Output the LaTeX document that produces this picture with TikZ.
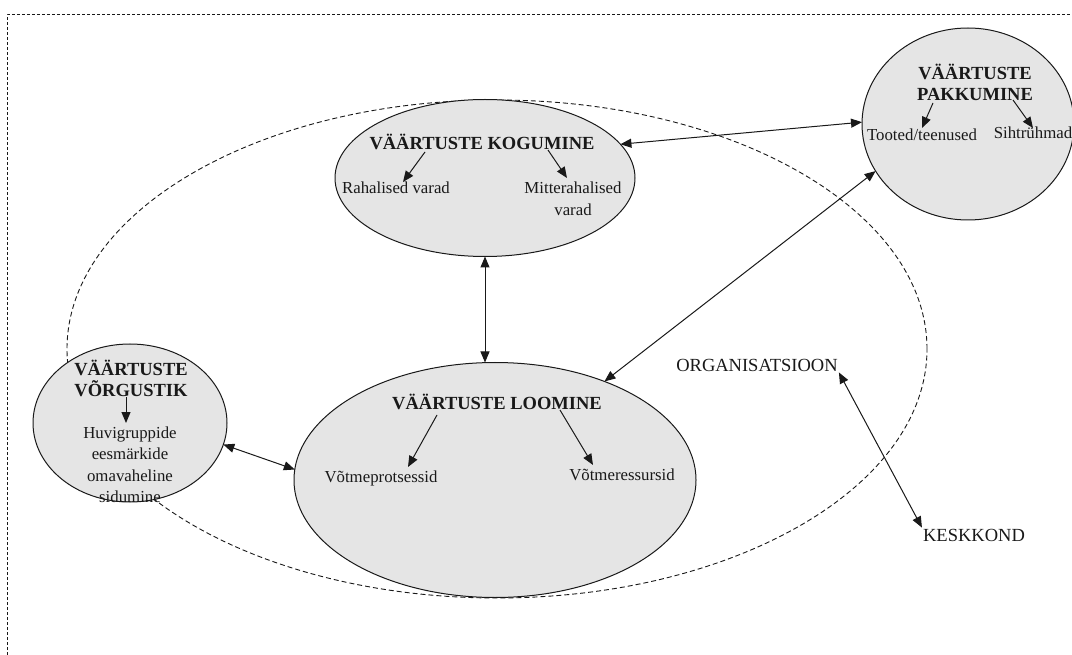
\documentclass[tikz,border=0pt]{standalone}
\usepackage{fontspec}
\setmainfont{Liberation Serif}
\usetikzlibrary{arrows.meta,shapes.geometric,calc}
\definecolor{bubble}{RGB}{229,229,229}
\definecolor{inkc}{RGB}{25,25,25}
\tikzset{
  frameline/.style={draw=inkc,line width=1pt,dash pattern=on 3pt off 2pt},
  orgline/.style={draw=inkc,line width=0.9pt,dash pattern=on 5pt off 3pt},
  bubblenode/.style={ellipse,draw=inkc,line width=1pt,fill=bubble,inner sep=0pt,outer sep=0pt},
  titletext/.style={font=\fontsize{18.5}{21}\selectfont\bfseries,align=center,inner sep=0pt,text=inkc},
  bodytext/.style={font=\fontsize{16.8}{21.5}\selectfont,align=center,inner sep=0pt,text=inkc},
  capstext/.style={font=\fontsize{18.5}{22}\selectfont,align=center,inner sep=1pt,text=inkc},
  arr/.style={-{Triangle[length=11pt,width=9pt]},line width=1pt,draw=inkc},
  darr/.style={{Triangle[length=11pt,width=9pt]}-{Triangle[length=11pt,width=9pt]},line width=1pt,draw=inkc}
}
\begin{document}
\begin{tikzpicture}[x=1pt,y=-1pt]
\useasboundingbox (0,0) rectangle (1072,655);
% outer frame
\draw[frameline] (7,655) -- (7,15) -- (1072,15);
% organisation boundary
\node[ellipse,orgline,minimum width=860pt,minimum height=498pt,inner sep=0pt] (orgb) at (497,349) {};
% bubbles
\node[bubblenode,minimum width=300pt,minimum height=157pt] (kog) at (485,178) {};
\node[bubblenode,minimum width=212pt,minimum height=192pt] (pak) at (968,124) {};
\node[bubblenode,minimum width=194pt,minimum height=158pt] (vor) at (130,423) {};
\node[bubblenode,minimum width=402pt,minimum height=235pt] (loo) at (495,480) {};
% texts
\node[titletext] (kogt) at (482,142) {VÄÄRTUSTE KOGUMINE};
\node[bodytext] (rah) at (396,188) {Rahalised varad};
\node[bodytext] (mit) at (573,199) {Mitterahalised\\varad};
\node[titletext] (pakt) at (975,82) {VÄÄRTUSTE\\PAKKUMINE};
\node[bodytext] (too) at (922,135) {Tooted/teenused};
\node[bodytext] (sih) at (1033,133) {Sihtrühmad};
\node[titletext] (vort) at (131,378) {VÄÄRTUSTE\\VÕRGUSTIK};
\node[bodytext] (vorb) at (130,465) {Huvigruppide\\eesmärkide\\omavaheline\\sidumine};
\node[titletext] (loot) at (497,402) {VÄÄRTUSTE LOOMINE};
\node[bodytext] (vp) at (381,478) {Võtmeprotsessid};
\node[bodytext] (vr) at (622,475) {Võtmeressursid};
\node[capstext] (org) at (757,365) {ORGANISATSIOON};
\node[capstext] (kes) at (974,535) {KESKKOND};
% inner arrows
\draw[arr] ([shift={(-57,10)}]kogt.center) -- ([shift={(7,-6)}]rah.center);
\draw[arr] ([shift={(66,8)}]kogt.center) -- ([shift={(-6,-21)}]mit.center);
\draw[arr] ([shift={(-42,21)}]pakt.center) -- ([shift={(0,-7)}]too.center);
\draw[arr] ([shift={(38,18)}]pakt.center) -- ([shift={(0,-5)}]sih.center);
\draw[arr] ([shift={(-5,19)}]vort.center) -- ([shift={(-4,-42)}]vorb.center);
\draw[arr] ([shift={(-60,13)}]loot.center) -- ([shift={(27,-11)}]vp.center);
\draw[arr] ([shift={(63,8)}]loot.center) -- ([shift={(-29,-10)}]vr.center);
% connectors between bubbles
\draw[darr] (kog.14) -- (pak.179);
\draw[darr] (kog.south) -- (kog.south |- loo.north);
\draw[darr] (loo.42) -- (pak.207);
\draw[darr] (vor.-13) -- (loo.177);
\draw[darr] (org.south east) -- (kes.north west);
\end{tikzpicture}
\end{document}
